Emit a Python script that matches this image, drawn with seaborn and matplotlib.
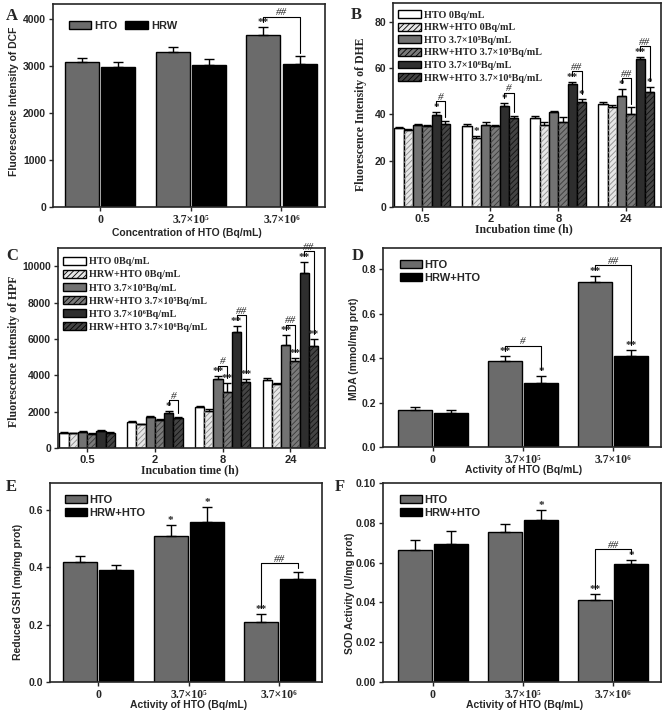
import numpy as np
import pandas as pd
import seaborn as sns
import matplotlib.pyplot as plt
from matplotlib.patches import Patch, Rectangle

# -------------------------------------------------------------------
# Data
# -------------------------------------------------------------------
dose_labels = ["0", "3.7×10⁵", "3.7×10⁶"]
time_labels = ["0.5", "2", "8", "24"]
pair_a = ["HTO", "HRW"]
pair_def = ["HTO", "HRW+HTO"]
six_groups = ["HTO 0Bq/mL", "HRW+HTO 0Bq/mL",
              "HTO 3.7×10⁵Bq/mL", "HRW+HTO 3.7×10⁵Bq/mL",
              "HTO 3.7×10⁶Bq/mL", "HRW+HTO 3.7×10⁶Bq/mL"]

# A: DCF
dcf_hto = [3080, 3290, 3667]
dcf_hto_err = [90, 120, 160]
dcf_hrw = [2980, 3030, 3045]
dcf_hrw_err = [100, 120, 160]

# B: DHE (rows = incubation time, cols = six groups)
dhe = [[34.0, 33.4, 35.4, 34.8, 39.8, 36.0],
       [34.9, 29.6, 35.5, 34.9, 43.5, 38.4],
       [38.4, 35.5, 41.1, 36.8, 53.2, 45.5],
       [44.3, 43.2, 48.0, 40.3, 63.8, 49.8]]
dhe_err = [[0.3, 0.2, 0.4, 0.4, 1.3, 1.1],
           [0.9, 0.9, 1.0, 0.5, 1.2, 1.0],
           [1.0, 1.1, 0.3, 2.0, 0.8, 0.9],
           [0.9, 0.8, 3.0, 2.8, 1.0, 2.0]]

# C: HPF
hpf = [[850, 800, 900, 760, 960, 850],
       [1440, 1300, 1680, 1530, 1930, 1660],
       [2250, 2060, 3800, 3100, 6400, 3620],
       [3720, 3500, 5660, 4790, 9650, 5620]]
hpf_err = [[40, 30, 50, 40, 50, 40],
           [50, 40, 60, 60, 120, 60],
           [60, 70, 150, 450, 330, 190],
           [110, 90, 550, 180, 600, 350]]

# D: MDA
mda_hto = [0.167, 0.387, 0.740]
mda_hto_err = [0.012, 0.021, 0.031]
mda_hrw = [0.152, 0.290, 0.411]
mda_hrw_err = [0.015, 0.031, 0.024]

# E: GSH
gsh_hto = [0.420, 0.510, 0.210]
gsh_hto_err = [0.020, 0.040, 0.029]
gsh_hrw = [0.391, 0.560, 0.360]
gsh_hrw_err = [0.017, 0.050, 0.025]

# F: SOD
sod_hto = [0.0662, 0.0752, 0.0411]
sod_hto_err = [0.0050, 0.0040, 0.0030]
sod_hrw = [0.0692, 0.0813, 0.0592]
sod_hrw_err = [0.0069, 0.0049, 0.0023]

# -------------------------------------------------------------------
# Style
# -------------------------------------------------------------------
sns.set_style("ticks")
plt.rcParams["font.family"] = ["Liberation Sans", "DejaVu Sans"]
plt.rcParams["hatch.linewidth"] = 0.6
plt.rcParams["axes.linewidth"] = 1.2

SANS = ["Liberation Sans", "DejaVu Sans"]
SERIF = ["Liberation Serif", "DejaVu Serif"]

W, H = 666, 712
fig = plt.figure(figsize=(W / 100, H / 100), dpi=100)


def px_axes(left, top, right, bottom):
    return fig.add_axes([left / W, 1 - bottom / H, (right - left) / W, (bottom - top) / H])


def add_hatch(ax, bar, hatch, hcolor):
    # hatch overlay in its own colour, outline stays black on the bar below
    ax.add_patch(Rectangle(bar.get_xy(), bar.get_width(), bar.get_height(),
                           facecolor="none", edgecolor=hcolor, hatch=hatch, lw=0,
                           zorder=bar.get_zorder() + 0.1))


def draw_bars(ax, cats, groups, vals, errs, colors, hatches, hcolors, width, gap, capsize):
    vals = np.asarray(vals, dtype=float)
    errs = np.asarray(errs, dtype=float)
    df = pd.DataFrame({
        "cat": np.repeat(cats, len(groups)),
        "grp": list(groups) * len(cats),
        "val": vals.ravel(),
    })
    sns.barplot(data=df, x="cat", y="val", hue="grp", order=cats, hue_order=groups,
                palette=colors, width=width, gap=gap, edgecolor="black", linewidth=1.0,
                errorbar=None, legend=False, saturation=1, ax=ax)
    centers = np.zeros(vals.shape)
    for j, cont in enumerate(list(ax.containers)):
        for i, bar in enumerate(cont):
            if hatches[j]:
                add_hatch(ax, bar, hatches[j], hcolors[j])
            centers[i, j] = bar.get_x() + bar.get_width() / 2
    ax.errorbar(centers.ravel(), vals.ravel(),
                yerr=[np.zeros(vals.size), errs.ravel()],
                fmt="none", ecolor="black", elinewidth=1.0, capsize=capsize, capthick=1.0,
                zorder=5)
    return centers, vals + errs


def annotate(ax, centers, tops, stars, brackets, h_px, fs=8):
    y0, y1 = ax.get_ylim()
    u = (y1 - y0) / h_px  # data units per pixel
    starred = set()
    for i, j, lab in stars:
        starred.add((i, j))
        ax.text(centers[i, j], tops[i, j] + 4.5 * u, lab, ha="center", va="center",
                fontsize=fs, family=SERIF, fontweight="bold", clip_on=False)
    for i, jl, jr, lab in brackets:
        yl = tops[i, jl] + (5.5 if (i, jl) in starred else 3.5) * u
        yr = tops[i, jr] + (5.5 if (i, jr) in starred else 3.5) * u
        yline = max(yl, yr) + 5 * u
        xl, xr = centers[i, jl], centers[i, jr]
        ax.plot([xl, xl, xr, xr], [yl, yline, yline, yr], color="black", lw=0.8,
                clip_on=False, zorder=6)
        ax.text((xl + xr) / 2, yline + 4 * u, lab, ha="center", va="center",
                fontsize=8, family=SERIF, style="italic", clip_on=False)


def finish(ax, xlim, ylim, yticks, ylabels):
    ax.set_xlim(*xlim)
    ax.set_ylim(*ylim)
    ax.set_yticks(yticks, labels=ylabels, fontsize=7.5, fontweight="bold", family=SANS)
    ax.set_xlabel("")
    ax.set_ylabel("")
    for s in ax.spines.values():
        s.set_visible(True)
        s.set_linewidth(1.2)
    ax.tick_params(direction="out", length=3, width=1.0, pad=2)


def set_xticks(ax, labels, fam, size):
    ax.set_xticks(range(len(labels)), labels=labels, fontsize=size, fontweight="bold",
                  family=fam)


# -------------------------------------------------------------------
# Panel A
# -------------------------------------------------------------------
pair_colors = ["#6b6b6b", "#000000"]

axA = px_axes(53, 4, 325, 207)
cA, tA = draw_bars(axA, dose_labels, pair_a, np.column_stack([dcf_hto, dcf_hrw]),
                   np.column_stack([dcf_hto_err, dcf_hrw_err]),
                   pair_colors, ["", ""], ["", ""], 0.8, 0.06, 3.5)
finish(axA, (-0.52, 2.48), (0, 4320), [0, 1000, 2000, 3000, 4000],
       ["0", "1000", "2000", "3000", "4000"])
set_xticks(axA, dose_labels, SERIF, 8.5)
annotate(axA, cA, tA, [(2, 0, "**")], [(2, 0, 1, "##")], 203)
axA.legend(handles=[Patch(facecolor=c, edgecolor="black", label=l)
                    for c, l in zip(pair_colors, pair_a)],
           ncol=2, loc="upper left", bbox_to_anchor=(0.058, 0.915), frameon=False,
           handlelength=2.0, handleheight=0.75, handletextpad=0.3, columnspacing=0.7,
           borderpad=0, borderaxespad=0, prop={"family": SANS, "weight": "bold", "size": 8})

# -------------------------------------------------------------------
# Panels B and C (six groups)
# -------------------------------------------------------------------
six_colors = ["#ffffff", "#e6e6e6", "#727272", "#7a7a7a", "#2e2e2e", "#444444"]
six_hatch = ["", "//////", "", "//////", "", "//////"]
six_hcol = ["", "#8c8c8c", "", "#3a3a3a", "", "#111111"]


def six_legend(ax, anchor, spacing):
    handles = [Patch(facecolor=c, edgecolor="black", hatch=h, label=l)
               for c, h, l in zip(six_colors, six_hatch, six_groups)]
    leg = ax.legend(handles=handles, loc="upper left", bbox_to_anchor=anchor,
                    frameon=False, handlelength=2.2, handleheight=0.8, handletextpad=0.3,
                    labelspacing=spacing, borderpad=0, borderaxespad=0,
                    prop={"family": SERIF, "weight": "bold", "size": 7.3})
    for p, hc in zip(leg.get_patches(), six_hcol):
        if hc and hasattr(p, "set_hatchcolor"):
            p.set_hatchcolor(hc)


axB = px_axes(393, 3, 661, 207)
cB, tB = draw_bars(axB, time_labels, six_groups, dhe, dhe_err, six_colors, six_hatch,
                   six_hcol, 0.82, 0, 3)
finish(axB, (-0.43, 3.51), (0, 88), [0, 20, 40, 60, 80],
       ["0", "20", "40", "60", "80"])
set_xticks(axB, time_labels, SANS, 8)
annotate(axB, cB, tB,
         [(0, 4, "*"), (1, 1, "*"), (1, 4, "*"), (2, 4, "**"), (2, 5, "*"),
          (3, 2, "*"), (3, 4, "**"), (3, 5, "*")],
         [(0, 4, 5, "#"), (1, 4, 5, "#"), (2, 4, 5, "##"), (3, 2, 3, "##"), (3, 4, 5, "##")],
         204)
six_legend(axB, (0.02, 0.965), 0.32)

axC = px_axes(58, 248, 325, 448)
cC, tC = draw_bars(axC, time_labels, six_groups, hpf, hpf_err, six_colors, six_hatch,
                   six_hcol, 0.82, 0, 3)
finish(axC, (-0.43, 3.51), (0, 11000), [0, 2000, 4000, 6000, 8000, 10000],
       ["0", "2000", "4000", "6000", "8000", "10000"])
set_xticks(axC, time_labels, SANS, 8)
annotate(axC, cC, tC,
         [(1, 4, "*"), (2, 2, "**"), (2, 3, "**"), (2, 4, "**"), (2, 5, "**"),
          (3, 2, "**"), (3, 3, "**"), (3, 4, "**"), (3, 5, "**")],
         [(1, 4, 5, "#"), (2, 2, 3, "#"), (2, 4, 5, "##"), (3, 2, 3, "##"), (3, 4, 5, "##")],
         200)
six_legend(axC, (0.02, 0.955), 0.36)

# -------------------------------------------------------------------
# Panels D, E, F
# -------------------------------------------------------------------
def pair_legend(ax, anchor):
    ax.legend(handles=[Patch(facecolor=c, edgecolor="black", label=l)
                       for c, l in zip(pair_colors, pair_def)],
              loc="upper left", bbox_to_anchor=anchor, frameon=False,
              handlelength=2.0, handleheight=0.75, handletextpad=0.2, labelspacing=0.3,
              borderpad=0, borderaxespad=0,
              prop={"family": SANS, "weight": "bold", "size": 8})


axD = px_axes(383, 248, 661, 447)
cD, tD = draw_bars(axD, dose_labels, pair_def, np.column_stack([mda_hto, mda_hrw]),
                   np.column_stack([mda_hto_err, mda_hrw_err]), pair_colors, ["", ""],
                   ["", ""], 0.8, 0.06, 3.5)
finish(axD, (-0.55, 2.53), (0, 0.895), [0.0, 0.2, 0.4, 0.6, 0.8],
       ["0.0", "0.2", "0.4", "0.6", "0.8"])
set_xticks(axD, dose_labels, SERIF, 8.5)
annotate(axD, cD, tD, [(1, 0, "**"), (1, 1, "*"), (2, 0, "**"), (2, 1, "**")],
         [(1, 0, 1, "#"), (2, 0, 1, "##")], 199)
pair_legend(axD, (0.06, 0.94))

axE = px_axes(50, 483, 322, 682)
cE, tE = draw_bars(axE, dose_labels, pair_def, np.column_stack([gsh_hto, gsh_hrw]),
                   np.column_stack([gsh_hto_err, gsh_hrw_err]), pair_colors, ["", ""],
                   ["", ""], 0.8, 0.06, 3.5)
finish(axE, (-0.53, 2.47), (0, 0.695), [0.0, 0.2, 0.4, 0.6],
       ["0.0", "0.2", "0.4", "0.6"])
set_xticks(axE, dose_labels, SERIF, 8.5)
annotate(axE, cE, tE, [(1, 0, "*"), (1, 1, "*"), (2, 0, "**")], [(2, 0, 1, "##")], 199)
pair_legend(axE, (0.055, 0.94))

axF = px_axes(383, 483, 661, 682)
cF, tF = draw_bars(axF, dose_labels, pair_def, np.column_stack([sod_hto, sod_hrw]),
                   np.column_stack([sod_hto_err, sod_hrw_err]), pair_colors, ["", ""],
                   ["", ""], 0.8, 0.06, 3.5)
finish(axF, (-0.55, 2.53), (0, 0.1), [0.0, 0.02, 0.04, 0.06, 0.08, 0.10],
       ["0.00", "0.02", "0.04", "0.06", "0.08", "0.10"])
set_xticks(axF, dose_labels, SERIF, 8.5)
annotate(axF, cF, tF, [(1, 1, "*"), (2, 0, "**"), (2, 1, "*")], [(2, 0, 1, "##")], 199)
pair_legend(axF, (0.06, 0.94))

# -------------------------------------------------------------------
# Axis titles and panel letters (pixel placement)
# -------------------------------------------------------------------
def ftext(x, y, s, **kw):
    fig.text(x / W, 1 - y / H, s, ha="center", va="center", **kw)


bold_sans = dict(family=SANS, fontweight="bold", fontsize=7.5)
bold_serif = dict(family=SERIF, fontweight="bold", fontsize=8.5)

ftext(14, 101, "Fluorescence Intensity of DCF", rotation=90, **bold_sans)
ftext(187, 233, "Concentration of HTO (Bq/mL)", **bold_sans)
ftext(361, 114, "Fluorescence Intensity of DHE", rotation=90, **bold_serif)
ftext(524, 229, "Incubation time (h)", **bold_serif)
ftext(14, 351, "Fluorescence Intensity of HPF", rotation=90, **bold_serif)
ftext(190, 470, "Incubation time (h)", **bold_serif)
ftext(354, 349, "MDA (mmol/mg prot)", rotation=90, **bold_sans)
ftext(524, 470, "Activity of HTO (Bq/mL)", **bold_sans)
ftext(18, 592, "Reduced GSH (mg/mg prot)", rotation=90, **bold_sans)
ftext(189, 705, "Activity of HTO (Bq/mL)", **bold_sans)
ftext(350, 593, "SOD Activity (U/mg prot)", rotation=90, **bold_sans)
ftext(525, 705, "Activity of HTO (Bq/mL)", **bold_sans)

letter = dict(family=SERIF, fontweight="bold", fontsize=12)
ftext(12, 16, "A", **letter)
ftext(356, 15, "B", **letter)
ftext(12, 256, "C", **letter)
ftext(358, 256, "D", **letter)
ftext(11, 487, "E", **letter)
ftext(340, 487, "F", **letter)

fig.savefig("out.png", dpi=100)
